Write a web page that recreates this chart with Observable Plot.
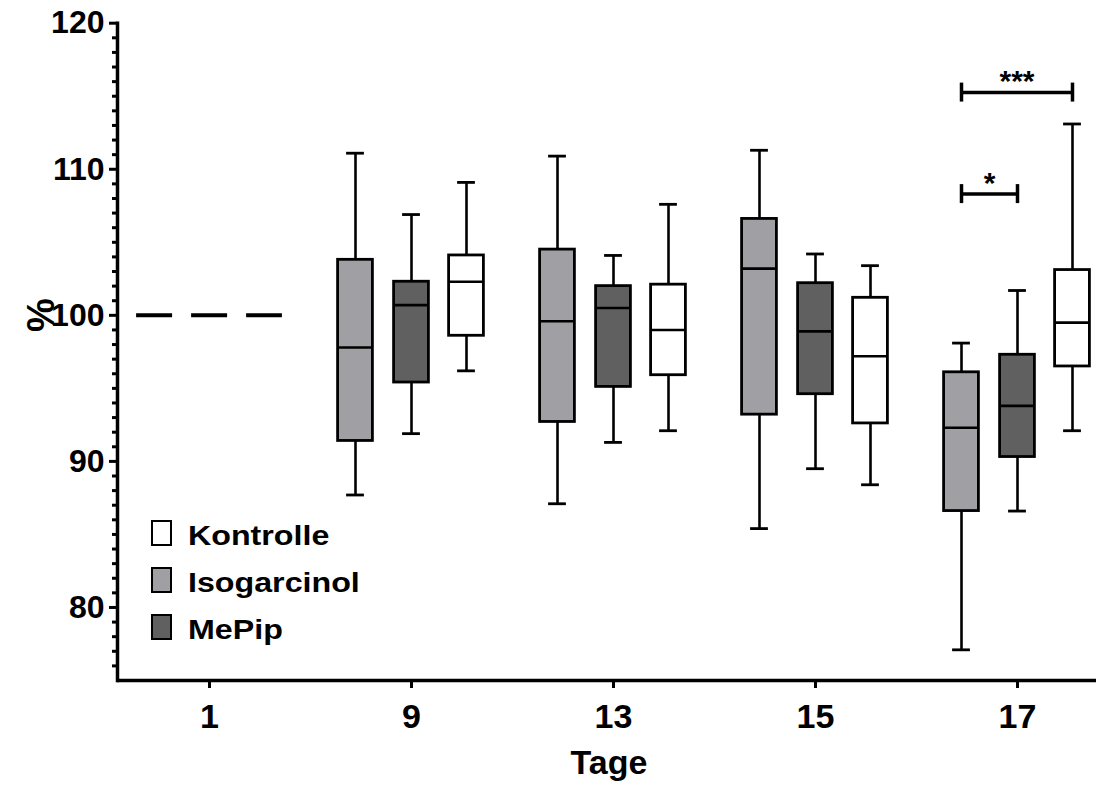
<!DOCTYPE html>
<html>
<head>
<meta charset="utf-8">
<script src="https://cdn.jsdelivr.net/npm/d3@7"></script>
<script src="https://cdn.jsdelivr.net/npm/@observablehq/plot@0.6"></script>
<style>
  html, body { margin: 0; padding: 0; background: #fff; }
  #wrap { position: relative; width: 1096px; height: 789px; font-family: "Liberation Sans", Arial, sans-serif; font-weight: bold; color: #000; }
  #wrap svg { position: absolute; left: 0; top: 0; }
  .abs { position: absolute; white-space: nowrap; }
  .sw { position: absolute; box-sizing: border-box; border: 2.5px solid #000; width: 21px; height: 26px; }
  .lt { position: absolute; font-size: 28px; line-height: 28px; transform: scaleX(1.15); transform-origin: left center; }
</style>
</head>
<body>
<div id="wrap"></div>
<script>
// ---- data ----
const days = ["1", "9", "13", "15", "17"];
const boxDays = ["9", "13", "15", "17"];
const groups = ["Isogarcinol", "MePip", "Kontrolle"];
const groupFill = ["#a0a0a4", "#606060", "#ffffff"];
const legendOrder = ["Kontrolle", "Isogarcinol", "MePip"];

const baselineDay = "1";
const baselineValue = 100;

const isoMin = [87.7, 87.1, 85.4, 77.1];
const isoQ1  = [91.4, 92.7, 93.2, 86.6];
const isoMed = [97.8, 99.6, 103.2, 92.3];
const isoQ3  = [103.8, 104.5, 106.6, 96.1];
const isoMax = [111.1, 110.9, 111.3, 98.1];

const mepMin = [91.9, 91.3, 89.5, 86.6];
const mepQ1  = [95.4, 95.1, 94.6, 90.3];
const mepMed = [100.7, 100.5, 98.9, 93.8];
const mepQ3  = [102.3, 102.0, 102.2, 97.3];
const mepMax = [106.9, 104.1, 104.2, 101.7];

const konMin = [96.2, 92.1, 88.4, 92.1];
const konQ1  = [98.6, 95.9, 92.6, 96.5];
const konMed = [102.3, 99.0, 97.2, 99.5];
const konQ3  = [104.1, 102.1, 101.2, 103.1];
const konMax = [109.1, 107.6, 103.4, 113.1];

const sigDay   = ["17", "17"];
const sigFrom  = ["Isogarcinol", "Isogarcinol"];
const sigTo    = ["MePip", "Kontrolle"];
const sigLevel = [108.3, 115.25];
const sigLabel = ["*", "***"];

const yMajor = [80, 90, 100, 110, 120];
const yMinor = d3.range(76, 120).filter(v => v % 10 !== 0);

// ---- layout ----
const W = 1096, H = 789;
const xRange = [107, 1118];
const bw = (xRange[1] - xRange[0]) / days.length;
const boxW = 35, capW = 18, baseW = 146;
const offset = {Isogarcinol: -56, MePip: 0, Kontrolle: 55};

const stats = {
  Isogarcinol: [isoMin, isoQ1, isoMed, isoQ3, isoMax],
  MePip: [mepMin, mepQ1, mepMed, mepQ3, mepMax],
  Kontrolle: [konMin, konQ1, konMed, konQ3, konMax]
};

const marks = [];

// baseline (day 1)
marks.push(Plot.tickY([{day: baselineDay, v: baselineValue}], {
  x: "day", y: "v", insetLeft: (bw - baseW) / 2, insetRight: (bw - baseW) / 2,
  stroke: "#000", strokeWidth: 4, strokeDasharray: "36 19"
}));

groups.forEach((g, gi) => {
  const [mn, q1, md, q3, mx] = stats[g];
  const rows = boxDays.map((d, j) => ({day: d, min: mn[j], q1: q1[j], med: md[j], q3: q3[j], max: mx[j]}));
  const dx = offset[g];
  marks.push(Plot.ruleX(rows, {x: "day", y1: "min", y2: "max", dx, stroke: "#000", strokeWidth: 2.6}));
  marks.push(Plot.tickY(rows, {x: "day", y: "min", dx, insetLeft: (bw - capW) / 2, insetRight: (bw - capW) / 2, stroke: "#000", strokeWidth: 2.8}));
  marks.push(Plot.tickY(rows, {x: "day", y: "max", dx, insetLeft: (bw - capW) / 2, insetRight: (bw - capW) / 2, stroke: "#000", strokeWidth: 2.8}));
  marks.push(Plot.barY(rows, {x: "day", y1: "q1", y2: "q3", dx, insetLeft: (bw - boxW) / 2, insetRight: (bw - boxW) / 2, fill: groupFill[gi], stroke: "#000", strokeWidth: 2.8}));
  marks.push(Plot.tickY(rows, {x: "day", y: "med", dx, insetLeft: (bw - boxW) / 2, insetRight: (bw - boxW) / 2, stroke: "#000", strokeWidth: 2.6}));
});

// significance brackets
sigDay.forEach((d, i) => {
  const row = [{day: d, y: sigLevel[i], label: sigLabel[i]}];
  const a = offset[sigFrom[i]], b = offset[sigTo[i]];
  marks.push(Plot.tickY(row, {x: "day", y: "y", insetLeft: bw / 2 + a, insetRight: bw / 2 - b, stroke: "#000", strokeWidth: 3.5}));
  marks.push(Plot.ruleX(row, {x: "day", y1: r => r.y - 0.65, y2: r => r.y + 0.65, dx: a, stroke: "#000", strokeWidth: 3.5}));
  marks.push(Plot.ruleX(row, {x: "day", y1: r => r.y - 0.65, y2: r => r.y + 0.65, dx: b, stroke: "#000", strokeWidth: 3.5}));
  marks.push(Plot.text(row, {x: "day", y: "y", text: "label", dx: (a + b) / 2, dy: -11, fontSize: 30, fontWeight: "bold", fill: "#000"}));
});

// axes
marks.push(Plot.axisY({ticks: yMinor, tickSize: 5, tickFormat: () => "", label: null, stroke: "#000", strokeWidth: 3}));
marks.push(Plot.axisY({ticks: yMajor, tickSize: 8, tickPadding: 5, label: null, fontSize: 32, fontWeight: "bold", fill: "#000", stroke: "#000", strokeWidth: 3}));
marks.push(Plot.axisX({tickSize: 8, tickPadding: 15, label: null, fontSize: 34, fontWeight: "bold", fill: "#000", stroke: "#000", strokeWidth: 3}));
marks.push(Plot.ruleY([75], {stroke: "#000", strokeWidth: 3.5}));
marks.push(Plot.frame({anchor: "left", stroke: "#000", strokeWidth: 3.5}));

const chart = Plot.plot({
  width: W, height: H,
  marginLeft: 117, marginRight: 0, marginTop: 22.7, marginBottom: 109,
  x: {type: "band", domain: days, range: xRange, padding: 0},
  y: {domain: [75, 120]},
  style: {fontFamily: '"Liberation Sans", Arial, sans-serif', fontWeight: "bold", fontSize: "30px", color: "#000", background: "#fff", overflow: "visible"},
  marks
});

const wrap = document.getElementById("wrap");
wrap.appendChild(chart);

// axis titles
const xl = document.createElement("div");
xl.className = "abs"; xl.textContent = "Tage";
Object.assign(xl.style, {left: "609px", top: "745px", transform: "translateX(-50%)", fontSize: "34px", lineHeight: "34px"});
wrap.appendChild(xl);

const yl = document.createElement("div");
yl.className = "abs"; yl.textContent = "%";
Object.assign(yl.style, {left: "41px", top: "315px", transform: "translate(-50%,-50%) rotate(-90deg)", fontSize: "38px", lineHeight: "38px"});
wrap.appendChild(yl);

// legend
const legTop = [520, 567, 614];
legendOrder.forEach((name, i) => {
  const sw = document.createElement("div");
  sw.className = "sw";
  Object.assign(sw.style, {left: "151px", top: legTop[i] + "px", background: groupFill[groups.indexOf(name)]});
  wrap.appendChild(sw);
  const t = document.createElement("div");
  t.className = "lt"; t.textContent = name;
  Object.assign(t.style, {left: "188px", top: (legTop[i] + 2) + "px"});
  wrap.appendChild(t);
});
</script>
</body>
</html>
